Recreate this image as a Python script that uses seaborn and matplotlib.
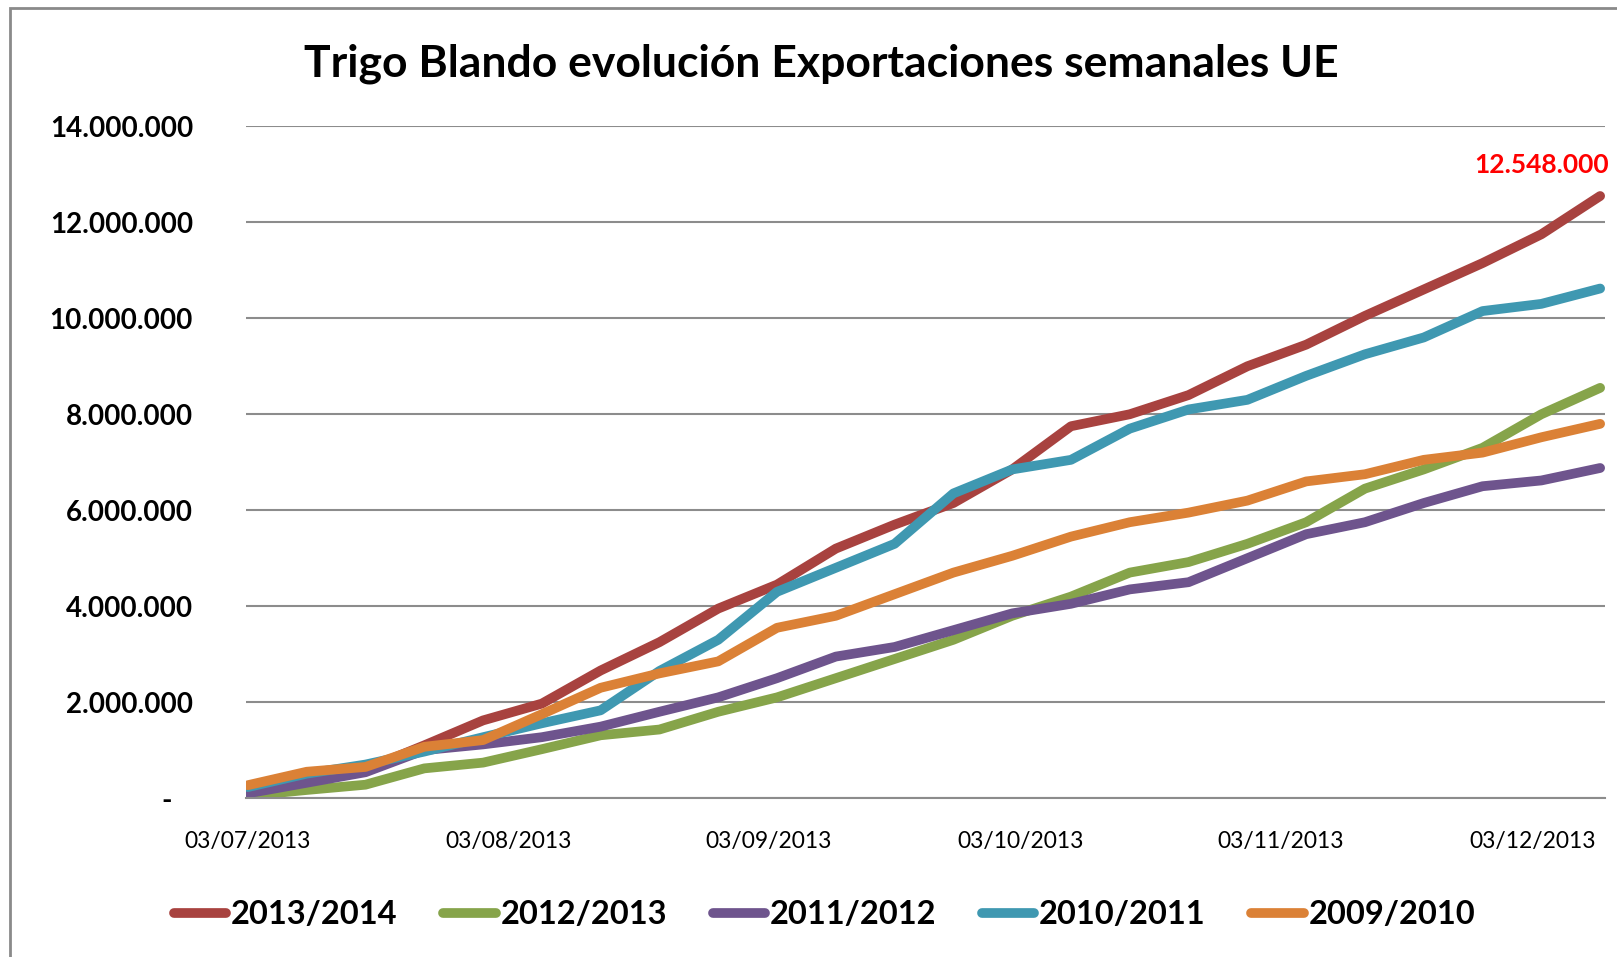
import matplotlib
matplotlib.use("Agg")
import matplotlib.pyplot as plt
import matplotlib.dates as mdates
from matplotlib.ticker import FuncFormatter
from matplotlib.patches import Rectangle
import seaborn as sns
import pandas as pd
import numpy as np

# weekly cumulative exports, thousand tonnes
weeks = pd.date_range("2013-07-03", periods=24, freq="7D")
seasons = ["2013/2014", "2012/2013", "2011/2012", "2010/2011", "2009/2010"]
s2013 = [200, 450, 600, 1100, 1620, 1970, 2660, 3250, 3950, 4450, 5200, 5700,
         6150, 6850, 7750, 8000, 8400, 9000, 9450, 10050, 10600, 11150, 11750, 12548]
s2012 = [50, 170, 280, 620, 740, 1020, 1310, 1430, 1800, 2100, 2500, 2900,
         3300, 3800, 4200, 4700, 4920, 5300, 5750, 6450, 6850, 7300, 8000, 8550]
s2011 = [100, 320, 540, 1000, 1120, 1270, 1490, 1800, 2100, 2500, 2950, 3150,
         3500, 3850, 4050, 4350, 4500, 5000, 5500, 5750, 6150, 6500, 6620, 6880]
s2010 = [230, 510, 700, 970, 1270, 1560, 1830, 2650, 3300, 4300, 4800, 5300,
         6350, 6850, 7050, 7700, 8100, 8300, 8800, 9250, 9600, 10150, 10300, 10620]
s2009 = [270, 550, 650, 1070, 1210, 1750, 2300, 2600, 2850, 3550, 3800, 4250,
         4700, 5050, 5450, 5750, 5950, 6200, 6600, 6750, 7050, 7200, 7520, 7800]
colors = ["#A8423F", "#86A44A", "#6E548D", "#3F98B1", "#DB8136"]
last_label = "12.548.000"

series = [s2013, s2012, s2011, s2010, s2009]
df = pd.concat([pd.DataFrame({"fecha": weeks, "t": np.array(v) * 1000, "campaña": s})
                for s, v in zip(seasons, series)], ignore_index=True)

sns.set_theme(style="white")
plt.rcParams["font.family"] = ["Lato", "DejaVu Sans"]
plt.rcParams["text.color"] = "black"
plt.rcParams["xtick.color"] = "black"
plt.rcParams["ytick.color"] = "black"

fig = plt.figure(figsize=(16.17, 9.57), dpi=100)
ax = fig.add_axes([0.152, 0.166, 0.8406, 0.702])

sns.lineplot(data=df, x="fecha", y="t", hue="campaña", hue_order=seasons,
             palette=colors, linewidth=7, ax=ax, legend=True,
             solid_capstyle="round")

ax.set_ylim(0, 14_000_000)
ax.set_xlim(weeks[0] - pd.Timedelta(hours=6), weeks[-1] + pd.Timedelta(hours=14))
ax.set_yticks(np.arange(0, 14_000_001, 2_000_000))
ax.yaxis.set_major_formatter(FuncFormatter(
    lambda v, p: "-   " if v == 0 else f"{int(v):,}".replace(",", ".")))
ax.xaxis.set_major_locator(mdates.MonthLocator(bymonthday=3))
ax.xaxis.set_major_formatter(mdates.DateFormatter("%d/%m/%Y"))
ax.grid(axis="y", color="#8c8c8c", linewidth=1.5)
ax.set_axisbelow(True)
for side in ["left", "right", "top"]:
    ax.spines[side].set_visible(False)
ax.spines["bottom"].set_color("#8c8c8c")
ax.spines["bottom"].set_linewidth(1.5)
ax.tick_params(axis="y", length=0, pad=38, labelsize=20)
ax.tick_params(axis="x", length=0, pad=24, labelsize=16.5)
for lab in ax.get_yticklabels():
    lab.set_fontweight("bold")
ax.set_xlabel("")
ax.set_ylabel("")

ax.annotate(last_label, xy=(weeks[-1], s2013[-1] * 1000), xytext=(6, 22),
            textcoords="offset points", ha="right", va="center",
            color="#FF0000", fontsize=19, fontweight="bold")

handles, labels = ax.get_legend_handles_labels()
ax.legend_.remove()
leg = fig.legend(handles, labels, loc="center", bbox_to_anchor=(0.51, 0.044),
                 ncol=5, frameon=False, handlelength=1.6, handletextpad=0.15,
                 columnspacing=1.4, prop={"size": 23.5, "weight": "bold"})
for h in leg.legend_handles:
    h.set_linewidth(7)
    h.set_solid_capstyle("round")

fig.text(0.508, 0.933, "Trigo Blando evolución Exportaciones semanales UE",
         ha="center", va="center", fontsize=32, fontweight="bold")

fig.patches.append(Rectangle((10 / 1617, -0.1), 1.2, 1 - 8 / 957 + 0.1,
                             transform=fig.transFigure, fill=False,
                             edgecolor="#8a8a8a", linewidth=2))

fig.savefig("out.png", dpi=100)
